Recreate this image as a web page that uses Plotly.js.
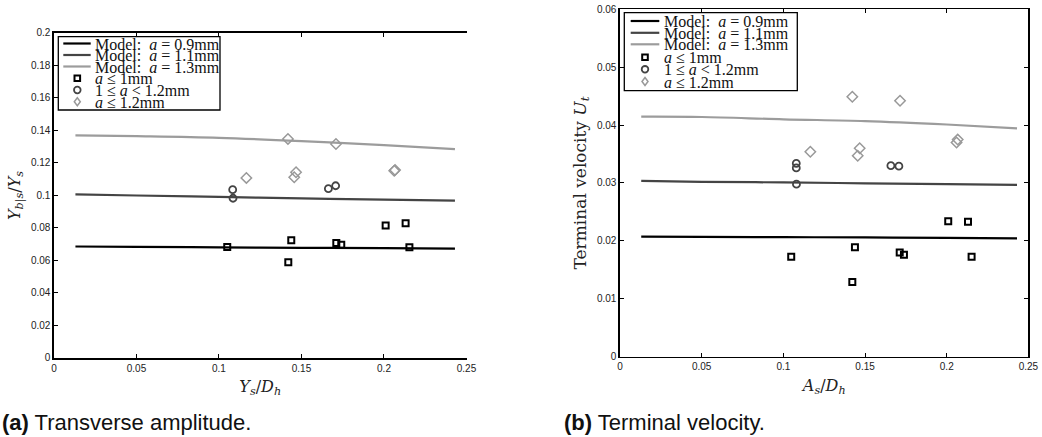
<!DOCTYPE html>
<html>
<head>
<meta charset="utf-8">
<script src="https://cdn.plot.ly/plotly-3.0.1.min.js"></script>
<style>
html,body{margin:0;padding:0;background:#fff;}
#chart{width:1042px;height:437px;}
</style>
</head>
<body>
<div id="chart"></div>
<script>
// ---- Data ----
const modelX = [0.013, 0.05, 0.1, 0.15, 0.2, 0.243];

// (a) Transverse amplitude
const ampModel09 = [0.0686, 0.0684, 0.0681, 0.0678, 0.0676, 0.0673];
const ampModel11 = [0.1007, 0.1000, 0.0991, 0.0982, 0.0975, 0.0968];
const ampModel13 = [0.1370, 0.1365, 0.1355, 0.1335, 0.1310, 0.1285];

const ampSmallX = [0.105, 0.1438, 0.142, 0.1711, 0.1741, 0.201, 0.2131, 0.2154];
const ampSmallY = [0.0683, 0.0724, 0.0589, 0.0708, 0.0697, 0.0816, 0.0829, 0.0681];
const ampMidX = [0.1083, 0.1085, 0.1663, 0.1707];
const ampMidY = [0.1036, 0.0983, 0.1042, 0.1060];
const ampLargeX = [0.1166, 0.1418, 0.1456, 0.1467, 0.1709, 0.2067, 0.2062];
const ampLargeY = [0.1108, 0.1348, 0.1112, 0.1143, 0.1317, 0.1157, 0.1152];

// (b) Terminal velocity
const velModel09 = [0.02073, 0.0207, 0.02065, 0.0206, 0.02053, 0.02045];
const velModel11 = [0.03035, 0.0302, 0.0301, 0.02995, 0.0298, 0.02966];
const velModel13 = [0.04145, 0.0414, 0.0410, 0.0407, 0.0401, 0.03945];

const velSmallX = [0.1048, 0.1438, 0.1422, 0.1712, 0.1738, 0.2009, 0.2130, 0.2152];
const velSmallY = [0.01727, 0.0189, 0.0129, 0.0180, 0.0176, 0.0234, 0.0233, 0.01727];
const velMidX = [0.1079, 0.1079, 0.1080, 0.1658, 0.1707];
const velMidY = [0.0334, 0.0326, 0.0298, 0.0330, 0.0329];
const velLargeX = [0.1165, 0.1422, 0.1467, 0.1455, 0.1714, 0.2067, 0.2060];
const velLargeY = [0.0354, 0.0449, 0.0360, 0.0347, 0.0442, 0.0375, 0.0370];

// tick labels
const xTickVals = [0, 0.05, 0.1, 0.15, 0.2, 0.25];
const xTickText = ['0', '0.05', '0.1', '0.15', '0.2', '0.25'];
const ampTickVals = [0, 0.02, 0.04, 0.06, 0.08, 0.1, 0.12, 0.14, 0.16, 0.18, 0.2];
const ampTickText = ['0', '0.02', '0.04', '0.06', '0.08', '0.1', '0.12', '0.14', '0.16', '0.18', '0.2'];
const velTickVals = [0, 0.01, 0.02, 0.03, 0.04, 0.05, 0.06];
const velTickText = ['0', '0.01', '0.02', '0.03', '0.04', '0.05', '0.06'];

const seriesNames = [
  'Model:  <i>a</i> = 0.9mm',
  'Model:  <i>a</i> = 1.1mm',
  'Model:  <i>a</i> = 1.3mm',
  '<i>a</i> ≤ 1mm',
  '1 ≤ <i>a</i> < 1.2mm',
  '<i>a</i> ≤ 1.2mm'
];

// ---- Styles ----
const W = 1042, H = 437;
const lineColors = ['#000000', '#444444', '#9c9c9c'];
const markColors = ['#000000', '#444444', '#999999'];
const markerStyles = [
  {symbol: 'square-open', size: 6, color: markColors[0], line: {width: 2, color: markColors[0]}},
  {symbol: 'circle-open', size: 7, color: markColors[1], line: {width: 1.8, color: markColors[1]}},
  {symbol: 'diamond-open', size: 8, color: markColors[2], line: {width: 1.5, color: markColors[2]}}
];

function makeTraces(models, pts, xa, ya) {
  const traces = [];
  models.forEach((m, i) => {
    traces.push({
      x: modelX, y: m, type: 'scatter', mode: 'lines', name: seriesNames[i],
      line: {color: lineColors[i], width: 2.2, shape: 'spline'},
      xaxis: xa, yaxis: ya, showlegend: false, hoverinfo: 'skip'
    });
  });
  pts.forEach((p, i) => {
    traces.push({
      x: p[0], y: p[1], type: 'scatter', mode: 'markers', name: seriesNames[3 + i],
      marker: markerStyles[i], xaxis: xa, yaxis: ya, showlegend: false
    });
  });
  return traces;
}

const data = [].concat(
  makeTraces([ampModel09, ampModel11, ampModel13],
    [[ampSmallX, ampSmallY], [ampMidX, ampMidY], [ampLargeX, ampLargeY]], 'x', 'y'),
  makeTraces([velModel09, velModel11, velModel13],
    [[velSmallX, velSmallY], [velMidX, velMidY], [velLargeX, velLargeY]], 'x2', 'y2')
);

const tickFont = {family: 'Liberation Sans, Arial, sans-serif', size: 10, color: '#222'};
const titleFont = {family: 'DejaVu Serif, Liberation Serif, serif', size: 16, color: '#222'};
const legendFont = {family: 'Liberation Serif, DejaVu Serif, serif', size: 16, color: '#111'};

function xAxis(domain, anchor, title) {
  return {
    domain: domain, anchor: anchor, range: [0, 0.25],
    tickvals: xTickVals, ticktext: xTickText,
    ticks: 'inside', ticklen: 4, tickwidth: 1, tickcolor: '#000',
    showline: true, linecolor: '#000', linewidth: 1.6, mirror: 'ticks',
    showgrid: false, zeroline: false, tickfont: tickFont,
    title: {text: title, font: titleFont, standoff: 8}
  };
}
function yAxis(domain, anchor, range, vals, text, title, mirror, size) {
  return {
    domain: domain, anchor: anchor, range: range,
    tickvals: vals, ticktext: text,
    ticks: 'inside', ticklen: 4, tickwidth: 1, tickcolor: '#000',
    showline: true, linecolor: '#000', linewidth: 1.6, mirror: mirror,
    showgrid: false, zeroline: false, tickfont: tickFont,
    title: {text: title, font: Object.assign({}, titleFont, {size: size}), standoff: 6}
  };
}

// ---- Compact legends (box, sample lines, sample markers, labels) ----
const px = v => v / W;
const py = v => 1 - v / H;
const legendSpecs = [
  {box: [58.3, 36.7, 220, 110], rows: [43.5, 55, 66.5, 78.3, 90, 101.7], lineX: [63.3, 90.7], markX: 77.3, textX: 92.5},
  {box: [624.3, 12.7, 797.3, 90.7], rows: [21, 32.8, 44.3, 57.3, 69.3, 81.5], lineX: [630.7, 659.3], markX: 645, textX: 661.5}
];
const shapes = [];
const annotations = [];
legendSpecs.forEach(spec => {
  shapes.push({type: 'rect', xref: 'paper', yref: 'paper', layer: 'above',
    x0: px(spec.box[0]), x1: px(spec.box[2]), y0: py(spec.box[3]), y1: py(spec.box[1]),
    fillcolor: '#fff', line: {color: '#000', width: 1.3}});
  for (let i = 0; i < 3; i++) {
    shapes.push({type: 'line', xref: 'paper', yref: 'paper', layer: 'above',
      x0: px(spec.lineX[0]), x1: px(spec.lineX[1]), y0: py(spec.rows[i]), y1: py(spec.rows[i]),
      line: {color: lineColors[i], width: 2.2}});
  }
  const cx = spec.markX;
  let cy = spec.rows[3];
  shapes.push({type: 'rect', xref: 'paper', yref: 'paper', layer: 'above',
    x0: px(cx - 2.8), x1: px(cx + 2.8), y0: py(cy + 2.8), y1: py(cy - 2.8),
    line: {color: markColors[0], width: 2}});
  cy = spec.rows[4];
  shapes.push({type: 'circle', xref: 'paper', yref: 'paper', layer: 'above',
    x0: px(cx - 3.3), x1: px(cx + 3.3), y0: py(cy + 3.3), y1: py(cy - 3.3),
    line: {color: markColors[1], width: 1.8}});
  cy = spec.rows[5];
  shapes.push({type: 'path', xref: 'paper', yref: 'paper', layer: 'above',
    path: 'M ' + px(cx) + ',' + py(cy - 4) + ' L ' + px(cx + 3) + ',' + py(cy) +
          ' L ' + px(cx) + ',' + py(cy + 4) + ' L ' + px(cx - 3) + ',' + py(cy) + ' Z',
    line: {color: markColors[2], width: 1.5}});
  for (let i = 0; i < 6; i++) {
    annotations.push({text: seriesNames[i], xref: 'paper', yref: 'paper',
      x: px(spec.textX), y: py(spec.rows[i] + 0.5), xanchor: 'left', yanchor: 'middle',
      showarrow: false, font: legendFont});
  }
});

annotations.push(
  {text: '<b>(a)</b> Transverse amplitude.', xref: 'paper', yref: 'paper',
   x: 0, y: py(422), xanchor: 'left', yanchor: 'middle', showarrow: false,
   font: {family: 'Liberation Sans, Arial, sans-serif', size: 22, color: '#111'}},
  {text: '<b>(b)</b> Terminal velocity.', xref: 'paper', yref: 'paper',
   x: px(562), y: py(422), xanchor: 'left', yanchor: 'middle', showarrow: false,
   font: {family: 'Liberation Sans, Arial, sans-serif', size: 22, color: '#111'}}
);

const layout = {
  width: W, height: H,
  margin: {l: 0, r: 0, t: 0, b: 0},
  paper_bgcolor: '#fff', plot_bgcolor: '#fff',
  showlegend: false,
  xaxis: xAxis([0.0518, 0.4477], 'y', '<i>Y<sub>s</sub></i>/<i>D<sub>h</sub></i>'),
  yaxis: yAxis([0.1808, 0.9245], 'x', [0, 0.2], ampTickVals, ampTickText,
               '<i>Y<sub>b|s</sub></i>/<i>Y<sub>s</sub></i>', false, 16),
  xaxis2: xAxis([0.595, 0.987], 'y2', '<i>A<sub>s</sub></i>/<i>D<sub>h</sub></i>'),
  yaxis2: yAxis([0.1838, 0.9787], 'x2', [0, 0.06], velTickVals, velTickText,
                'Terminal velocity <i>U<sub>t</sub></i>', 'ticks', 17),
  shapes: shapes,
  annotations: annotations
};

Plotly.newPlot('chart', data, layout, {displayModeBar: false, staticPlot: true});
</script>
</body>
</html>
